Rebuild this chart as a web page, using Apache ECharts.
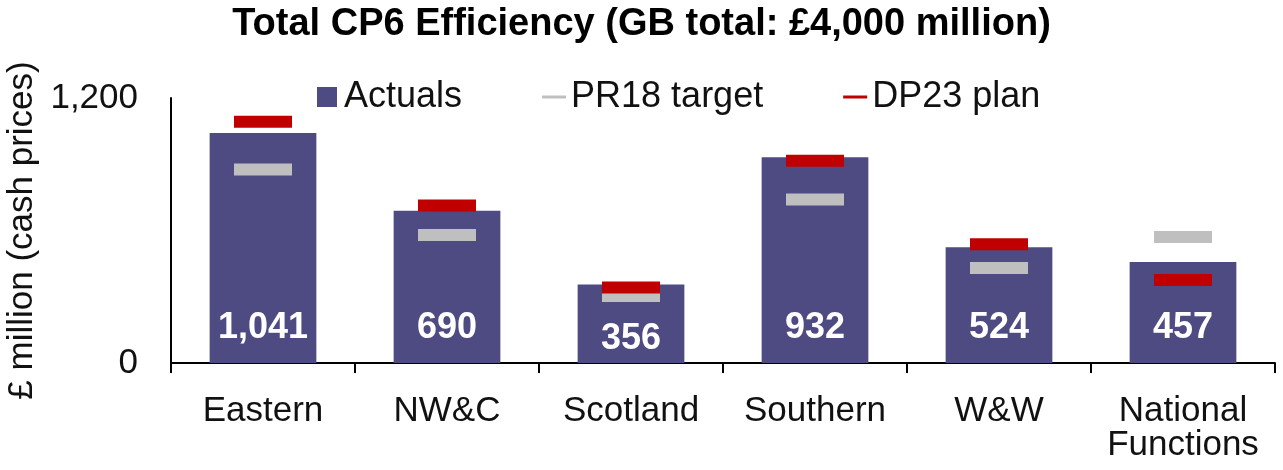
<!DOCTYPE html>
<html>
<head>
<meta charset="utf-8">
<script src="https://cdn.jsdelivr.net/npm/echarts@6/dist/echarts.min.js"></script>
<style>
  html, body { margin: 0; padding: 0; background: #fff; }
  #chart { width: 1283px; height: 470px; }
</style>
</head>
<body>
<div id="chart"></div>
<script>
// data
const regions = ['Eastern', 'NW&C', 'Scotland', 'Southern', 'W&W', 'National\nFunctions'];
const actuals = [1041, 690, 356, 932, 524, 457];
const pr18Target = [876, 580, 303, 740, 430, 571];
const dp23Plan = [1093, 713, 342, 916, 538, 376];
const yTicks = [0, 1200];

const FONT = '"Liberation Sans", Arial, sans-serif';
const chart = echarts.init(document.getElementById('chart'));

const option = {
    animation: false,
    textStyle: { fontFamily: FONT },
    title: {
        text: 'Total CP6 Efficiency (GB total: £4,000 million)',
        left: 'center',
        top: 1,
        textStyle: { fontFamily: FONT, fontSize: 38, fontWeight: 'bold', color: '#000' }
    },
    legend: {
        left: 312,
        top: 74,
        itemWidth: 24,
        itemHeight: 20,
        itemGap: 80,
        textStyle: { fontFamily: FONT, fontSize: 36, color: '#111' },
        data: [
            { name: 'Actuals', icon: 'path://M0,0H10V10H0Z' },
            { name: 'PR18 target', icon: 'path://M0,0H24V3H0Z' },
            { name: 'DP23 plan', icon: 'path://M0,0H24V3H0Z' }
        ]
    },
    grid: { left: 171, right: 8, top: 98, bottom: 107, outerBoundsMode: 'none' },
    xAxis: {
        type: 'category',
        data: regions,
        axisLine: { lineStyle: { color: '#000', width: 2 } },
        axisTick: { show: true, length: 10, lineStyle: { color: '#000', width: 2 } },
        axisLabel: { fontFamily: FONT, fontSize: 35, color: '#111', margin: 31, lineHeight: 34, interval: 0 }
    },
    yAxis: {
        type: 'value',
        min: yTicks[0],
        max: yTicks[1],
        interval: yTicks[1] - yTicks[0],
        name: '£ million (cash prices)',
        nameLocation: 'middle',
        nameGap: 111,
        nameTextStyle: { fontFamily: FONT, fontSize: 35, color: '#111' },
        axisLine: { show: true, lineStyle: { color: '#000', width: 2 } },
        axisTick: { show: false },
        splitLine: { show: false },
        axisLabel: {
            fontFamily: FONT, fontSize: 35, color: '#111', margin: 33,
            formatter: v => v.toLocaleString('en-GB')
        }
    },
    series: [
        {
            name: 'Actuals',
            type: 'bar',
            barWidth: '58%',
            itemStyle: { color: '#4E4A82' },
            label: {
                show: true,
                position: 'insideBottom',
                distance: 17,
                color: '#fff',
                fontFamily: FONT,
                fontSize: 36,
                fontWeight: 'bold',
                formatter: p => p.value.toLocaleString('en-GB')
            },
            data: actuals.map((v, i) => i === 2 ? { value: v, label: { distance: 6 } } : v)
        },
        {
            name: 'PR18 target',
            type: 'scatter',
            symbol: 'rect',
            symbolSize: [58, 12],
            itemStyle: { color: '#BFBFBF', opacity: 1 },
            data: pr18Target
        },
        {
            name: 'DP23 plan',
            type: 'scatter',
            symbol: 'rect',
            symbolSize: [58, 12],
            itemStyle: { color: '#C00000', opacity: 1 },
            data: dp23Plan
        }
    ]
};

chart.setOption(option);
</script>
</body>
</html>
